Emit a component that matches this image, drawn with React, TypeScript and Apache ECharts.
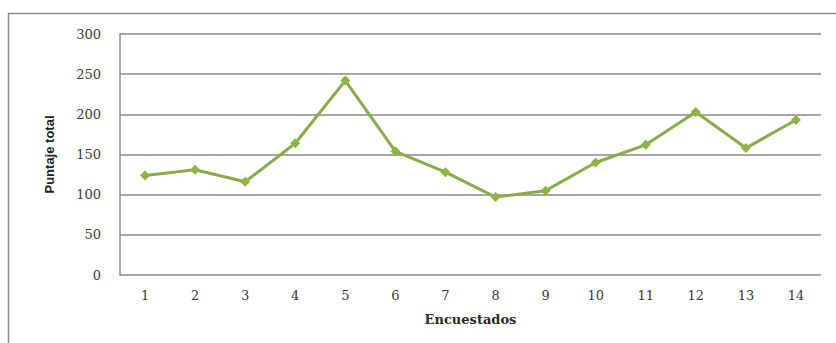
import React, { useEffect, useRef } from "react";
import * as echarts from "echarts";

const encuestados = ["1", "2", "3", "4", "5", "6", "7", "8", "9", "10", "11", "12", "13", "14"];
const puntajeTotal = [124, 131, 116, 164, 242, 154, 128, 97, 105, 140, 162, 203, 158, 193];
const yMin = 0;
const yMax = 300;
const yStep = 50;

export default function App() {
  const ref = useRef<HTMLDivElement>(null);

  useEffect(() => {
    if (!ref.current) return;
    const chart = echarts.init(ref.current, null, { renderer: "svg" });
    chart.setOption({
      animation: false,
      backgroundColor: "#ffffff",
      graphic: [
        {
          type: "rect",
          shape: { x: 8.5, y: 13.5, width: 840, height: 340 },
          style: { fill: "none", stroke: "#8c8c8c", lineWidth: 1.5 },
          silent: true,
        },
      ],
      grid: { left: 120, top: 34, right: 15, bottom: 68 },
      xAxis: {
        type: "category",
        data: encuestados,
        boundaryGap: true,
        name: "Encuestados",
        nameLocation: "middle",
        nameGap: 38,
        nameTextStyle: {
          fontFamily: "DejaVu Serif",
          fontWeight: "bold",
          fontSize: 13,
          color: "#2a2a2a",
        },
        axisLine: { show: false },
        axisTick: { show: false },
        axisLabel: {
          fontFamily: "DejaVu Serif",
          fontSize: 13,
          color: "#3a3a3a",
          margin: 14,
        },
      },
      yAxis: {
        type: "value",
        min: yMin,
        max: yMax,
        interval: yStep,
        name: "Puntaje total",
        nameLocation: "middle",
        nameGap: 64,
        nameRotate: 90,
        nameTextStyle: {
          fontFamily: "Liberation Sans",
          fontWeight: "bold",
          fontSize: 13,
          color: "#222222",
        },
        axisLine: { show: true, lineStyle: { color: "#8a8a8a", width: 1.5 } },
        axisTick: { show: false },
        axisLabel: {
          fontFamily: "DejaVu Serif",
          fontSize: 13,
          color: "#3a3a3a",
          margin: 19,
        },
        splitLine: { lineStyle: { color: "#8a8a8a", width: 1.5 } },
      },
      series: [
        {
          type: "line",
          data: puntajeTotal,
          symbol: "diamond",
          symbolSize: 10,
          lineStyle: { color: "#8aab4a", width: 3 },
          itemStyle: { color: "#8db544" },
        },
      ],
    });
    return () => chart.dispose();
  }, []);

  return (
    <div
      ref={ref}
      style={{ position: "fixed", left: 0, top: 0, width: 836, height: 343 }}
    />
  );
}
